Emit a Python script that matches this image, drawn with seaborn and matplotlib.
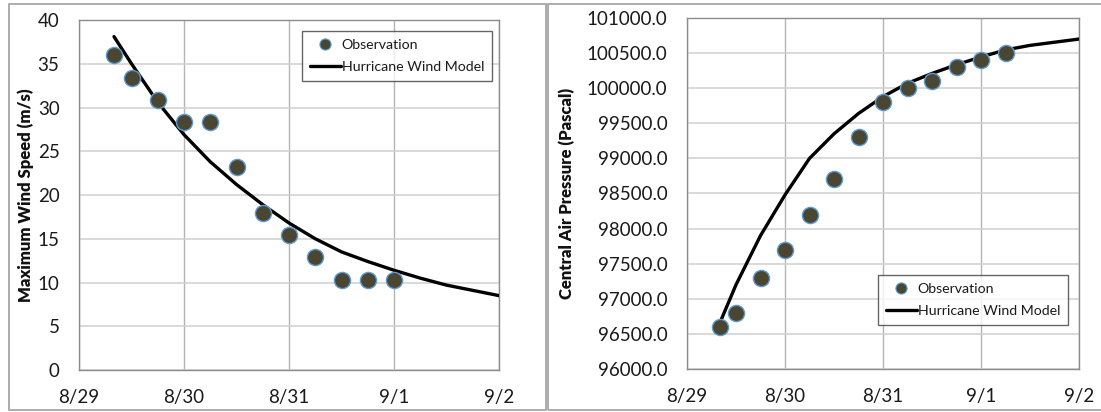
import matplotlib
matplotlib.use("Agg")
import matplotlib.pyplot as plt
from matplotlib.patches import Rectangle
from matplotlib.lines import Line2D
import numpy as np
import pandas as pd
import seaborn as sns

# Observed best-track values (6-hourly)
obs_wind_times = ["2005-08-29 08:00", "2005-08-29 12:00", "2005-08-29 18:00",
                  "2005-08-30 00:00", "2005-08-30 06:00", "2005-08-30 12:00",
                  "2005-08-30 18:00", "2005-08-31 00:00", "2005-08-31 06:00",
                  "2005-08-31 12:00", "2005-08-31 18:00", "2005-09-01 00:00"]
obs_wind = [36.0, 33.4, 30.9, 28.3, 28.3, 23.2, 18.0, 15.4, 12.9, 10.3, 10.3, 10.3]

obs_pres_times = obs_wind_times + ["2005-09-01 06:00"]
obs_pres = [96600, 96800, 97300, 97700, 98200, 98700, 99300, 99800,
            100000, 100100, 100300, 100400, 100500]

# Hurricane wind model output
model_times = ["2005-08-29 08:00", "2005-08-29 12:00", "2005-08-29 18:00",
               "2005-08-30 00:00", "2005-08-30 06:00", "2005-08-30 12:00",
               "2005-08-30 18:00", "2005-08-31 00:00", "2005-08-31 06:00",
               "2005-08-31 12:00", "2005-08-31 18:00", "2005-09-01 00:00",
               "2005-09-01 06:00", "2005-09-01 12:00", "2005-09-01 18:00",
               "2005-09-02 00:00"]
model_wind = [38.1, 35.0, 30.6, 26.9, 23.8, 21.2, 18.9, 16.8,
              15.0, 13.5, 12.4, 11.4, 10.5, 9.7, 9.1, 8.5]
model_pres = [96650, 97200, 97900, 98480, 99000, 99350, 99640, 99880,
              100070, 100210, 100335, 100445, 100545, 100610, 100655, 100700]

tick_dates = ["2005-08-29", "2005-08-30", "2005-08-31", "2005-09-01", "2005-09-02"]
tick_labels = ["8/29", "8/30", "8/31", "9/1", "9/2"]

sns.set_style("white")
plt.rcParams["font.family"] = ["Lato", "DejaVu Sans"]

W, H = 1101, 412
fig = plt.figure(figsize=(W / 100, H / 100), dpi=100)

# Panel frames
for x0, x1 in [(9, 546), (548, 1110)]:
    fig.add_artist(Rectangle((x0 / W, 2 / H), (x1 - x0) / W, 406 / H,
                             transform=fig.transFigure, fill=False,
                             ec="#a6a6a6", lw=1.3))

ax1 = fig.add_axes([79 / W, (H - 370) / H, 420 / W, 350 / H])
ax2 = fig.add_axes([687 / W, (H - 369) / H, 392 / W, 351 / H])

MARK = "#4b4631"
EDGE = "#5b9bd5"

panels = [
    (ax1, obs_wind_times, obs_wind, model_wind, (0, 40), np.arange(0, 41, 5),
     "Maximum Wind Speed (m/s)", lambda v: f"{v:.0f}", (302, 31)),
    (ax2, obs_pres_times, obs_pres, model_pres, (96000, 101000),
     np.arange(96000, 101001, 500), "Central Air Pressure (Pascal)",
     lambda v: f"{v:.1f}", (878, 275)),
]

for ax, ot, ov, mv, ylim, yticks, ylabel, fmt, lpos in panels:
    sns.lineplot(x=pd.to_datetime(model_times), y=mv, ax=ax, color="black",
                 lw=2.4, zorder=3)
    sns.scatterplot(x=pd.to_datetime(ot), y=ov, ax=ax, s=135, color=MARK,
                    edgecolor=EDGE, linewidth=1.0, zorder=4)
    ax.set_xlim(pd.Timestamp(tick_dates[0]), pd.Timestamp(tick_dates[-1]))
    ax.set_ylim(*ylim)
    ax.set_xticks(pd.to_datetime(tick_dates))
    ax.set_xticklabels(tick_labels)
    ax.set_yticks(yticks)
    ax.set_yticklabels([fmt(v) for v in yticks])
    ax.tick_params(axis="both", length=0, labelsize=13.5, colors="#1a1a1a")
    ax.tick_params(axis="y", pad=14)
    ax.tick_params(axis="x", pad=14)
    ax.yaxis.grid(True, color="#d0d0d0", lw=1.1)
    ax.xaxis.grid(True, color="#b4b4b4", lw=1.0)
    ax.set_axisbelow(True)
    for s in ax.spines.values():
        s.set_color("#8c8c8c")
        s.set_linewidth(1.0)
    ax.set_xlabel("")
    ax.set_ylabel(ylabel, fontsize=12, fontweight="heavy", color="#111111")

    handles = [
        Line2D([], [], marker="o", ls="none", markersize=8,
               markerfacecolor=MARK, markeredgecolor=EDGE, markeredgewidth=0.8),
        Line2D([], [], color="black", lw=2.4),
    ]
    pos = ax.get_position()
    bbox = ((lpos[0] - pos.x0 * W) / (pos.width * W),
            1 - (lpos[1] - (H - pos.y1 * H)) / (pos.height * H))
    leg = ax.legend(handles, ["Observation", "Hurricane Wind Model"],
                    loc="upper left", bbox_to_anchor=bbox, frameon=True,
                    fancybox=False, edgecolor="#404040", fontsize=10.2,
                    handlelength=2.2, handletextpad=0.05, borderpad=0.55,
                    labelspacing=0.75, borderaxespad=0)
    leg.get_frame().set_linewidth(1.0)
    for t in leg.get_texts():
        t.set_color("#1a1a1a")

ax1.yaxis.set_label_coords(-0.107, 0.5)
ax2.yaxis.set_label_coords(-0.286, 0.5)

fig.savefig("out.png", dpi=100)
